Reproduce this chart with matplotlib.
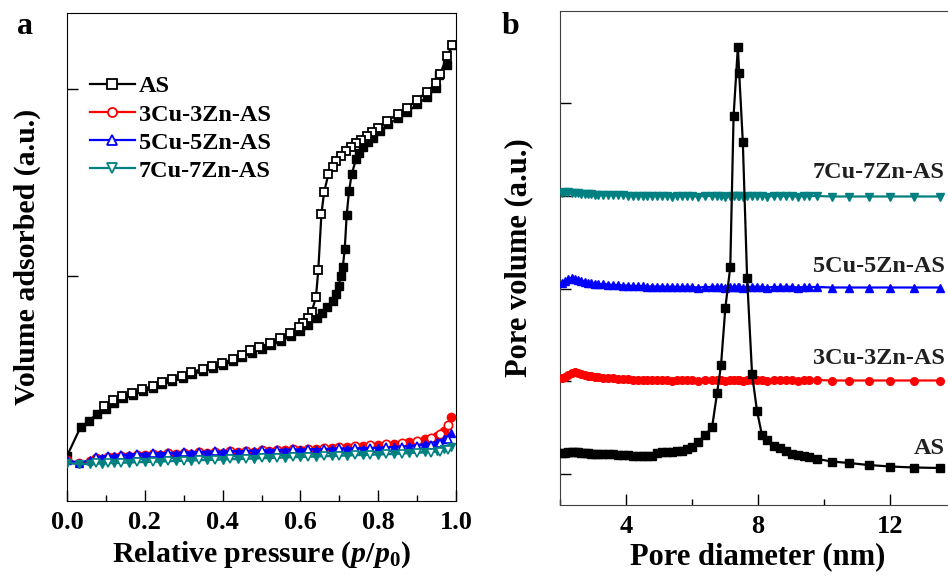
import numpy as np
import matplotlib
matplotlib.use('Agg')
import matplotlib.pyplot as plt
from matplotlib.lines import Line2D
from matplotlib.ticker import MultipleLocator

plt.rcParams['font.family'] = 'Liberation Serif'
plt.rcParams['font.weight'] = 'bold'
plt.rcParams['mathtext.fontset'] = 'custom'
plt.rcParams['mathtext.rm'] = 'Liberation Serif:bold'
plt.rcParams['mathtext.it'] = 'Liberation Serif:italic:bold'

# ---- panel a: N2 isotherms (relative pressure, volume in a.u.) ----
as_ads_p = [0.0, 0.035, 0.057, 0.076, 0.10, 0.12, 0.145, 0.17, 0.195, 0.22, 0.245, 0.27,
            0.297, 0.322, 0.35, 0.375, 0.40, 0.428, 0.45, 0.475, 0.50, 0.525, 0.55, 0.575,
            0.60, 0.62, 0.642, 0.655, 0.669, 0.683, 0.692, 0.698, 0.704, 0.709, 0.714, 0.719,
            0.725, 0.732, 0.743, 0.751, 0.762, 0.775, 0.786, 0.805, 0.826, 0.852, 0.875,
            0.901, 0.926, 0.949, 0.957, 0.976, 0.989]
as_ads_v = [45, 74, 80, 87, 92, 98, 103, 106, 110, 113, 117, 120,
            123, 127, 130, 133, 136, 140, 144, 148, 152, 156, 160, 165,
            170, 176, 183, 188, 194, 200, 207, 215, 225, 234, 252, 286,
            310, 327, 342, 348, 354, 359, 363, 370, 377, 383, 389,
            397, 404, 413, 426, 436, 456]
as_des_p = [0.99, 0.978, 0.959, 0.949, 0.925, 0.899, 0.875, 0.850, 0.823, 0.800, 0.785,
            0.771, 0.757, 0.744, 0.731, 0.718, 0.704, 0.692, 0.683, 0.672, 0.661, 0.654,
            0.646, 0.640, 0.629, 0.620, 0.607, 0.597, 0.573, 0.548, 0.522, 0.494, 0.470,
            0.449, 0.426, 0.398, 0.373, 0.349, 0.320, 0.296, 0.269, 0.243, 0.220, 0.194,
            0.166, 0.141, 0.117, 0.095]
as_des_v = [456, 445, 427, 418, 409, 401, 393, 387, 380, 373, 369,
            365, 361, 358, 354, 350, 345, 340, 334, 327, 309, 287,
            231, 204, 189, 183, 178, 174, 168, 163, 158, 154, 151,
            146, 142, 138, 135, 132, 129, 125, 122, 119, 115, 112,
            108, 105, 101, 95]

low_ads_p = [0.0, 0.03, 0.06, 0.09, 0.12, 0.16, 0.2, 0.24, 0.28, 0.32, 0.36, 0.4, 0.44, 0.48,
             0.52, 0.56, 0.6, 0.64, 0.68, 0.72, 0.76, 0.8, 0.84, 0.88, 0.92, 0.95, 0.97, 0.987]
cu3_ads_v = [41, 38, 40, 42, 44, 45, 46, 46.5, 47, 47.5, 48, 48.5, 49, 49.5,
             50, 51, 51.5, 52, 53, 54, 55, 56, 57.5, 59, 62, 65, 70, 84]
cu5_ads_v = [41, 38, 41, 43, 45, 46, 46.5, 47, 47.5, 48, 48.5, 49, 49.5, 50,
             50, 50.5, 51, 51.5, 52, 52, 52.5, 53, 54, 55, 57, 59, 62, 68]
cu7_ads_v = [38, 37, 37, 37.5, 38, 38.5, 39, 39.5, 40, 40.5, 41, 41.5, 42, 42.5,
             43, 43.5, 44, 44.5, 45, 45.5, 46, 46.5, 47, 48, 49, 50, 52, 54]

low_des_p = [0.98, 0.96, 0.935, 0.9, 0.86, 0.82, 0.78, 0.74, 0.70, 0.66, 0.62, 0.58, 0.54,
             0.50, 0.46, 0.42, 0.38, 0.34, 0.30, 0.26, 0.22, 0.18, 0.14, 0.105, 0.075]
cu3_des_v = [76, 67, 63, 60.5, 58.5, 57, 56, 55, 54, 53, 52.5, 52, 51.5,
             51, 50.5, 50, 49.5, 49, 48.5, 48, 47.5, 46.5, 45.5, 44.5, 43.5]
cu5_des_v = [62, 58, 56, 55, 54.5, 54, 53.5, 53, 53, 52.5, 52, 52, 51.5,
             51, 50.5, 50, 50, 49.5, 49, 48.5, 48, 47.5, 46.5, 45.5, 44.5]
cu7_des_v = [51, 49.5, 48.5, 48, 47.5, 47, 46.5, 46, 45.5, 45, 44.5, 44, 43.5,
             43, 42.5, 42, 41.5, 41, 40.5, 40, 39.5, 39, 38.5, 38, 38]

# ---- panel b: pore size distributions (offset, a.u.) ----
pore_d = [2.06, 2.15, 2.25, 2.35, 2.45, 2.55, 2.65, 2.75, 2.85, 2.95, 3.05, 3.15, 3.3, 3.45,
          3.6, 3.75, 3.9, 4.05, 4.2, 4.35, 4.5, 4.65, 4.8, 4.95, 5.1, 5.25, 5.4, 5.55, 5.7,
          5.85, 6.0, 6.18, 6.4, 6.61, 6.76, 6.88, 7.01, 7.16, 7.26, 7.39, 7.43, 7.54, 7.67,
          7.82, 7.97, 8.12, 8.27, 8.47, 8.68, 8.85, 9.03, 9.2, 9.38, 9.56, 9.79, 10.24,
          10.75, 11.35, 12.01, 12.72, 13.52]
psd_as = [52, 52.5, 53, 53, 53, 53, 52.5, 52, 52, 51.5, 51.5, 51, 51, 51,
          51, 50.5, 50, 50, 49.5, 49.5, 49.5, 49, 49.5, 52.5, 53, 53, 53.5, 54, 54.5,
          56, 58, 63, 70, 78, 112, 140, 197, 238, 389, 458, 432, 363, 227,
          131, 94, 70, 65, 59, 57, 54, 51, 50, 49, 48, 46, 43.5,
          42, 40, 38.5, 37.5, 37]
psd_cu3 = [127, 128, 130, 132, 133, 132, 131, 130, 129.5, 129, 128.5, 128, 127.5, 127,
           127, 126.5, 126, 126, 125.5, 125.5, 125.5, 125, 125, 125, 125.5, 125, 124.5, 125, 125,
           125.5, 125, 124.5, 125, 125, 125.5, 125, 124.5, 125, 125, 125.5, 125, 124.5, 125,
           125, 125.5, 125, 124.5, 125, 125, 125.5, 125, 124.5, 125, 125, 125, 124.5,
           124.5, 124.5, 124.5, 124.5, 124.5]
psd_cu5 = [222, 224, 226, 227, 226, 225, 224, 223, 222.5, 222, 221.5, 221, 221, 220.5,
           220, 220, 219.5, 219.5, 219, 219, 219, 218.5, 218.5, 218.5, 218.5, 218, 218.5, 218, 218,
           218.5, 218, 217.5, 218, 218, 218.5, 218, 217.5, 218, 218, 218.5, 218, 217.5, 218,
           218, 218.5, 218, 217.5, 218, 218, 218.5, 218, 217.5, 218, 218, 218, 217.5,
           217.5, 217.5, 217.5, 217.5, 217.5]
psd_cu7 = [312, 313, 313, 312.5, 312, 312, 311.5, 311, 311, 311, 310.5, 310.5, 310, 310,
           310, 310, 310, 309.5, 309.5, 309.5, 309.5, 309, 309.5, 309, 309.5, 309, 308.5, 309, 309,
           309.5, 309, 308.5, 309, 309, 309.5, 309, 308.5, 309, 309, 309.5, 309, 308.5, 309,
           309, 309.5, 309, 308.5, 309, 309, 309, 309, 308.5, 309, 309, 309, 308.5,
           308.5, 308.5, 308.5, 308.5, 308.5]

labels = ['AS', '3Cu-3Zn-AS', '5Cu-5Zn-AS', '7Cu-7Zn-AS']
colors = ['k', 'r', 'b', '#008080']
markers = ['s', 'o', '^', 'v']

fig = plt.figure(figsize=(9.48, 5.76), dpi=100)
W, H = 948.0, 576.0
ax_a = fig.add_axes([67 / W, 1 - 501 / H, 389 / W, 488 / H])
ax_b = fig.add_axes([560 / W, 1 - 505 / H, 396 / W, 494 / H])

# panel a
ax_a.plot(as_ads_p, as_ads_v, '-', color='k', lw=1.6, marker='s', ms=6, mfc='k', mec='k', zorder=3)
ax_a.plot(as_des_p, as_des_v, '-', color='k', lw=1.6, marker='s', ms=6, mfc='w', mec='k', mew=1.3,
          zorder=4)
low = [(cu3_ads_v, cu3_des_v), (cu5_ads_v, cu5_des_v), (cu7_ads_v, cu7_des_v)]
for i, (ads, des) in enumerate(low):
    c, m = colors[i + 1], markers[i + 1]
    ax_a.plot(low_ads_p, ads, '-', color=c, lw=1.6, marker=m, ms=6, mfc=c, mec=c, zorder=5 + i)
    ax_a.plot(low_des_p, des, '-', color=c, lw=1.0, marker=m, ms=6, mfc='w', mec=c, mew=1.2,
              zorder=5 + i)

ax_a.set_xlim(0, 1.0)
ax_a.set_ylim(0, 488)
ax_a.set_xticks([0.0, 0.2, 0.4, 0.6, 0.8, 1.0])
ax_a.xaxis.set_minor_locator(MultipleLocator(0.1))
ax_a.set_yticks([38, 225, 412])
ax_a.set_yticklabels([])
ax_a.tick_params(axis='both', which='both', direction='in', top=False, right=False)
ax_a.tick_params(axis='both', which='major', length=8, width=1, labelsize=19, pad=7)
ax_a.tick_params(axis='x', which='minor', length=4, width=1)
ax_a.set_xlabel(r'Relative pressure ($p/p_0$)', fontsize=21.5, fontweight='bold', labelpad=4)
ax_a.set_ylabel('Volume adsorbed (a.u.)', fontsize=21.5, fontweight='bold', labelpad=12)

handles = [Line2D([], [], color=c, lw=1.6, marker=m, ms=6.5, mfc='w', mec=c, mew=1.3)
           for c, m in zip(colors, markers)]
ax_a.legend(handles, labels, loc='upper left', bbox_to_anchor=(0.059, 0.872), frameon=False,
            handlelength=1.85, handletextpad=0.15, labelspacing=0.25,
            borderpad=0, borderaxespad=0, prop={'weight': 'bold', 'size': 17.5})

# panel b
psd = [psd_as, psd_cu3, psd_cu5, psd_cu7]
for i in [3, 2, 1, 0]:
    ax_b.plot(pore_d, psd[i], '-', color=colors[i], lw=1.6, marker=markers[i], ms=5.5,
              mfc=colors[i], mec=colors[i], zorder=3 + (i == 0))

ax_b.set_xlim(2, 14)
ax_b.set_ylim(0, 494)
ax_b.set_xticks([4, 8, 12])
ax_b.xaxis.set_minor_locator(MultipleLocator(2))
ax_b.set_yticks(np.linspace(31, 402, 5))
ax_b.set_yticklabels([])
ax_b.tick_params(axis='both', which='both', direction='in', top=False, right=False)
ax_b.tick_params(axis='both', which='major', length=8, width=1, labelsize=19, pad=7)
ax_b.tick_params(axis='x', which='minor', length=4, width=1)
ax_b.set_xlabel('Pore diameter (nm)', fontsize=22, fontweight='bold', labelpad=3)
ax_b.set_ylabel('Pore volume (a.u.)', fontsize=22, fontweight='bold', labelpad=12)
for sp in ax_b.spines.values():
    sp.set_color('#404040')

label_y = [46, 136, 228, 322]
for lab, ly in zip(labels, label_y):
    ax_b.text(13.65, ly, lab, ha='right', va='bottom', fontsize=17.5, fontweight='bold',
              color='#202020')

fig.text(17 / W, 1 - 34 / H, 'a', fontsize=23, fontweight='bold')
fig.text(502 / W, 1 - 34 / H, 'b', fontsize=23, fontweight='bold')

fig.savefig('out.png', dpi=100)
